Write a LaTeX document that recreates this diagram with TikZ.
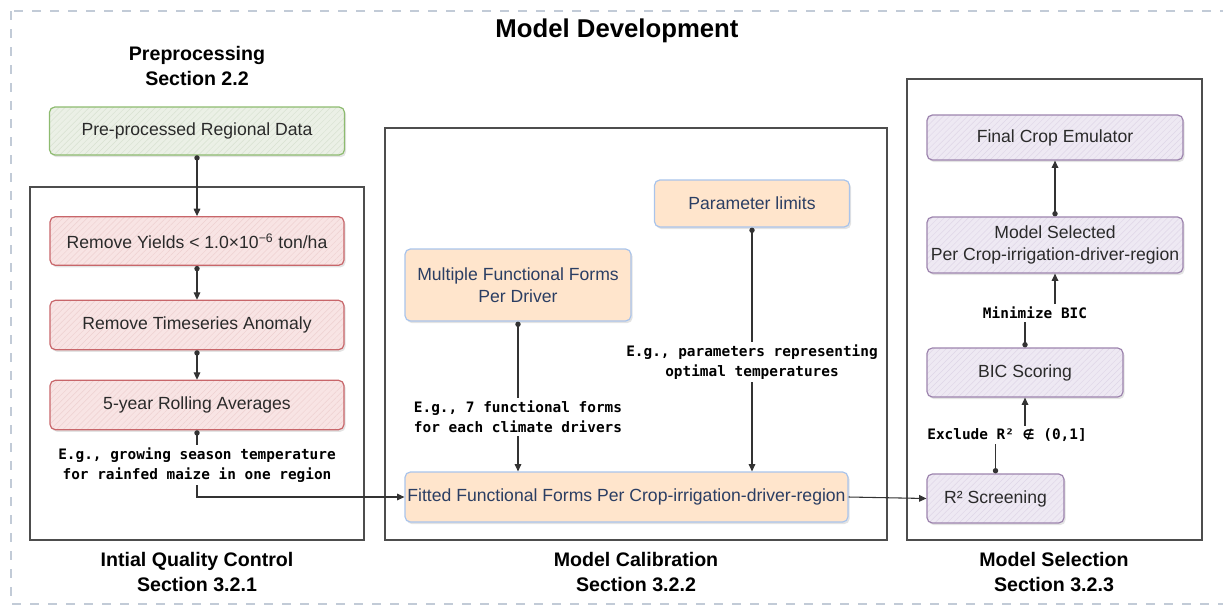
\documentclass[tikz,border=0pt]{standalone}
\usepackage{fontspec}
\setmainfont{Liberation Sans}
\newfontfamily\codefont{DejaVu Sans Mono}
\newfontfamily\symfont{DejaVu Sans}
\usetikzlibrary{arrows.meta,shadows,patterns.meta}
\definecolor{gfill}{HTML}{EBF0E6}\definecolor{gline}{HTML}{8DBB6F}\definecolor{ghatch}{HTML}{D8E2D1}
\definecolor{rfill}{HTML}{F8E4E4}\definecolor{rline}{HTML}{C8666A}\definecolor{rhatch}{HTML}{EED0D0}
\definecolor{pfill}{HTML}{EEE9F3}\definecolor{pline}{HTML}{9D84AE}\definecolor{phatch}{HTML}{DFD6E7}
\definecolor{ofill}{HTML}{FFE5CC}\definecolor{oline}{HTML}{A9C4EB}\definecolor{otext}{HTML}{2B3E63}
\definecolor{frame}{HTML}{4D4D4D}\definecolor{connc}{HTML}{333333}\definecolor{outerc}{HTML}{C2CBD7}
\definecolor{txt}{HTML}{2A2A2A}
\tikzset{
  boxbase/.style={draw, rounded corners=4pt, line width=0.9pt, align=center, inner sep=1pt,
    text=txt, font=\fontsize{13.2}{16.5}\selectfont,
    drop shadow={opacity=0.22, shadow xshift=1.2pt, shadow yshift=-1.6pt}},
  greenbox/.style={boxbase, draw=gline, preaction={fill=gfill},
    pattern={Lines[angle=45,distance=3.2pt,line width=0.35pt]}, pattern color=ghatch},
  redbox/.style={boxbase, draw=rline, preaction={fill=rfill},
    pattern={Lines[angle=45,distance=3.2pt,line width=0.35pt]}, pattern color=rhatch},
  purplebox/.style={boxbase, draw=pline, preaction={fill=pfill},
    pattern={Lines[angle=45,distance=3.2pt,line width=0.35pt]}, pattern color=phatch},
  orangebox/.style={boxbase, draw=oline, fill=ofill, text=otext},
  container/.style={draw=frame, line width=0.9pt, inner sep=0pt},
  sect/.style={align=center, font=\fontsize{14.7}{18.5}\selectfont\bfseries, text=black},
  ttl/.style={font=\fontsize{19.3}{22}\selectfont\bfseries, text=black},
  lbl/.style={align=center, inner sep=2pt, text=black, font=\codefont\bfseries\fontsize{10.8}{15}\selectfont},
  wire/.style={draw=connc, line width=0.8pt},
  dotwire/.style={wire, {Circle[length=4pt]}-},
  arrwire/.style={wire, -{Triangle[length=5.5pt,width=5pt]}},
  dotarr/.style={wire, {Circle[length=4pt]}-{Triangle[length=5.5pt,width=5pt]}},
}
\begin{document}
\begin{tikzpicture}[x=0.75pt,y=-0.75pt]
\useasboundingbox (0,0) rectangle (1223,607);
\begin{scope}
  \clip (0,0) rectangle (1223,607);
  \draw[outerc, line width=1.8pt, dash pattern=on 6.5pt off 7pt] (11,11) rectangle (1260,604);
\end{scope}

\node[ttl] (title) at (617,31) {Model Development};
\node[sect] (presec) at (197,66) {Preprocessing\\Section 2.2};

% containers
\node[container, minimum width=250.5pt, minimum height=264.75pt] (qc) at (197,363.5) {};
\node[container, minimum width=376.5pt, minimum height=309pt] (cal) at (636,334) {};
\node[container, minimum width=221.25pt, minimum height=345.75pt] (msel) at (1054.5,309.5) {};

\node[sect] (qcsec) at (197,572) {Intial Quality Control\\Section 3.2.1};
\node[sect] (calsec) at (636,572) {Model Calibration\\Section 3.2.2};
\node[sect] (selsec) at (1054,572) {Model Selection\\Section 3.2.3};

% preprocessing + QC
\node[greenbox, minimum width=221.25pt, minimum height=36pt] (prd) at (197,131) {Pre-processed Regional Data};
\node[redbox, minimum width=220.5pt, minimum height=36.5pt] (ry) at (197,241) {Remove Yields < 1.0×10\textsuperscript{−6} ton/ha};
\node[redbox, minimum width=220.5pt, minimum height=37pt] (rt) at (197,325) {Remove Timeseries Anomaly};
\node[redbox, minimum width=220.5pt, minimum height=37pt] (ra) at (197,405) {5-year Rolling Averages};
\node[lbl] (lbla) at (197,465) {E.g., growing season temperature\\for rainfed maize in one region};

% calibration
\node[orangebox, minimum width=146.25pt, minimum height=35.25pt] (param) at (752,203.5) {Parameter limits};
\node[orangebox, minimum width=169.5pt, minimum height=54pt] (multi) at (518,285) {Multiple Functional Forms\\Per Driver};
\node[lbl] (lblb) at (518,417) {E.g., 7 functional forms\\for each climate drivers};
\node[lbl] (lblc) at (752,362) {E.g., parameters representing\\optimal temperatures};
\node[orangebox, minimum width=332.25pt, minimum height=37.5pt] (fit) at (626.5,497) {Fitted Functional Forms Per Crop-irrigation-driver-region};

% selection
\node[purplebox, minimum width=192pt, minimum height=33.75pt] (final) at (1055,137.5) {Final Crop Emulator};
\node[purplebox, minimum width=192pt, minimum height=42pt] (sel) at (1055,245) {Model Selected\\Per Crop-irrigation-driver-region};
\node[lbl] (lble) at (1035,313) {Minimize BIC};
\node[purplebox, minimum width=147pt, minimum height=36.75pt] (bic) at (1025,372.5) {BIC Scoring};
\node[lbl] (lbld) at (1007,435) {Exclude R² {\symfont\bfseries\fontsize{10}{15}\selectfont ∉} (0,1]};
\node[purplebox, minimum width=102.75pt, minimum height=36.75pt] (r2) at (995.5,498.5) {R² Screening};

% connectors
\draw[dotarr] (prd.south) -- (ry.north);
\draw[dotarr] (ry.south) -- (rt.north);
\draw[dotarr] (rt.south) -- (ra.north);
\draw[dotwire] (ra.south) -- (lbla.north);
\draw[arrwire] (lbla.south) |- (fit.west);

\draw[dotwire] (multi.south) -- (lblb.north);
\draw[arrwire] (lblb.south) -- (lblb.south |- fit.north);
\draw[dotwire] (param.south) -- (lblc.north);
\draw[arrwire] (lblc.south) -- (lblc.south |- fit.north);

\draw[arrwire] (fit.east) -- (r2.west);
\draw[dotwire] (r2.north) -- (r2.north |- lbld.south);
\draw[arrwire] (bic.south |- lbld.north) -- (bic.south);
\draw[dotwire] (bic.north) -- (bic.north |- lble.south);
\draw[arrwire] (sel.south |- lble.north) -- (sel.south);
\draw[dotarr] (sel.north) -- (final.south);
\end{tikzpicture}
\end{document}
